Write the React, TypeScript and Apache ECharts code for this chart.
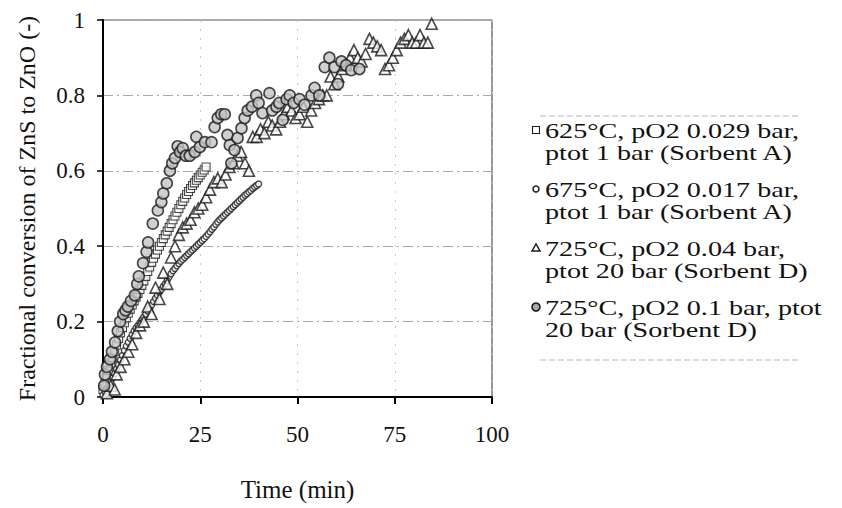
import React, { useEffect, useRef } from "react";
import * as echarts from "echarts";

const FONT = "Liberation Serif";

// axis ranges / ticks
const xMin = 0;
const xMax = 100;
const xStep = 25;
const yMin = 0;
const yMax = 1;
const yStep = 0.2;

const xTitle = "Time (min)";
const yTitle = "Fractional conversion of ZnS to ZnO (-)";

// legend texts (two lines each, as in the reference)
const legendLines: string[][] = [
  ["625°C, pO2 0.029 bar,", "ptot 1 bar (Sorbent A)"],
  ["675°C, pO2 0.017 bar,", "ptot 1 bar (Sorbent A)"],
  ["725°C, pO2 0.04 bar,", "ptot 20 bar (Sorbent D)"],
  ["725°C, pO2 0.1 bar, ptot", "20 bar (Sorbent D)"],
];
const seriesNames = legendLines.map((l) => l.join(" "));

// 625°C, pO2 0.029 bar, ptot 1 bar (Sorbent A) — squares [time, conversion]
const s625: number[][] = [
  [0, 0.02], [0.5, 0.035], [1, 0.05], [1.5, 0.07], [2, 0.09], [2.5, 0.105], [3, 0.12], [3.5, 0.138],
  [4, 0.155], [4.5, 0.17], [5, 0.184], [5.5, 0.197], [6, 0.21], [6.5, 0.222], [7, 0.233], [7.5, 0.244],
  [8, 0.255], [8.5, 0.265], [9, 0.275], [9.5, 0.285], [10, 0.296], [10.5, 0.308], [11, 0.32], [11.5, 0.333],
  [12, 0.345], [12.5, 0.357], [13, 0.368], [13.5, 0.379], [14, 0.39], [14.5, 0.4], [15, 0.41], [15.5, 0.42],
  [16, 0.43], [16.5, 0.44], [17, 0.45], [17.5, 0.46], [18, 0.47], [18.5, 0.48], [19, 0.49], [19.5, 0.5],
  [20, 0.51], [20.5, 0.519], [21, 0.528], [21.5, 0.537], [22, 0.545], [22.5, 0.553], [23, 0.561], [23.5, 0.568],
  [24, 0.575], [24.5, 0.582], [25, 0.589], [25.5, 0.596], [26, 0.602], [26.5, 0.61],
];

// 675°C, pO2 0.017 bar, ptot 1 bar (Sorbent A) — small open circles
const s675: number[][] = [
  [0, 0.005], [0.5, 0.015], [1, 0.022], [1.5, 0.031], [2, 0.04], [2.5, 0.051], [3, 0.062], [3.5, 0.074],
  [4, 0.085], [4.5, 0.098], [5, 0.11], [5.5, 0.123], [6, 0.135], [6.5, 0.145], [7, 0.155], [7.5, 0.165],
  [8, 0.175], [8.5, 0.183], [9, 0.19], [9.5, 0.197], [10, 0.205], [10.5, 0.212], [11, 0.22], [11.5, 0.228],
  [12, 0.235], [12.5, 0.244], [13, 0.253], [13.5, 0.262], [14, 0.27], [14.5, 0.278], [15, 0.285], [15.5, 0.293],
  [16, 0.3], [16.5, 0.309], [17, 0.318], [17.5, 0.327], [18, 0.335], [18.5, 0.341], [19, 0.348], [19.5, 0.354],
  [20, 0.36], [20.5, 0.365], [21, 0.37], [21.5, 0.375], [22, 0.38], [22.5, 0.385], [23, 0.39], [23.5, 0.395],
  [24, 0.4], [24.5, 0.405], [25, 0.41], [25.5, 0.415], [26, 0.42], [26.5, 0.426], [27, 0.432], [27.5, 0.438],
  [28, 0.445], [28.5, 0.451], [29, 0.458], [29.5, 0.464], [30, 0.47], [30.5, 0.475], [31, 0.48], [31.5, 0.485],
  [32, 0.49], [32.5, 0.495], [33, 0.5], [33.5, 0.505], [34, 0.51], [34.5, 0.515], [35, 0.52], [35.5, 0.525],
  [36, 0.53], [36.5, 0.535], [37, 0.539], [37.5, 0.544], [38, 0.548], [38.5, 0.553], [39, 0.557], [39.5, 0.561],
  [40, 0.565],
];

// 725°C, pO2 0.04 bar, ptot 20 bar (Sorbent D) — open triangles
const s725a: number[][] = [
  [1, 0.01], [2, 0.03], [3, 0.02], [3.5, 0.06], [4.5, 0.08], [5.5, 0.1], [6.5, 0.12], [7.5, 0.14],
  [8.5, 0.17], [9.5, 0.19], [10.5, 0.2], [11.5, 0.24], [12.5, 0.22], [13.5, 0.29], [14.5, 0.26], [15.5, 0.33],
  [16.5, 0.3], [17.5, 0.37], [18.5, 0.4], [19.5, 0.43], [20.5, 0.45], [21.5, 0.46], [22.5, 0.47], [23.5, 0.49],
  [24.5, 0.5], [25.5, 0.51], [26.5, 0.53], [27.5, 0.55], [28.5, 0.57], [29.5, 0.58], [30.5, 0.57], [31.5, 0.59],
  [32.5, 0.61], [33.5, 0.62], [34.5, 0.64], [35.5, 0.65], [36.5, 0.62], [37.5, 0.6], [38.5, 0.69], [39.5, 0.69],
  [40.5, 0.71], [41.5, 0.7], [42.5, 0.73], [43.5, 0.72], [44.5, 0.71], [45.5, 0.73], [46.5, 0.75], [47.5, 0.77],
  [48.5, 0.76], [49.5, 0.74], [50.5, 0.75], [51.5, 0.77], [52.5, 0.73], [53.5, 0.76], [54.5, 0.78], [55.5, 0.79],
  [56.5, 0.8], [57.5, 0.8], [58.5, 0.85], [59.5, 0.83], [60.5, 0.85], [61.5, 0.87], [62.5, 0.88], [63.5, 0.9],
  [64.5, 0.92], [65.5, 0.9], [66.5, 0.89], [67.5, 0.91], [68.5, 0.95], [69.5, 0.94], [70.5, 0.93], [71.5, 0.92],
  [72.5, 0.87], [73.5, 0.88], [74.5, 0.9], [75.5, 0.92], [76.5, 0.94], [77.5, 0.95], [78.5, 0.96], [79.5, 0.94],
  [80.5, 0.94], [81.5, 0.96], [82.5, 0.94], [83.5, 0.94], [84.5, 0.99],
];

// 725°C, pO2 0.1 bar, ptot 20 bar (Sorbent D) — grey-centred circles
const s725b: number[][] = [
  [0.3, 0.03], [0.5, 0.06], [1, 0.08], [1.8, 0.1], [2.3, 0.12], [3.1, 0.145], [3.8, 0.175], [4.4, 0.2],
  [5.2, 0.22], [5.8, 0.23], [6.4, 0.24], [7.2, 0.255], [8.2, 0.27], [8.8, 0.3], [9.2, 0.32], [10.3, 0.355],
  [11.2, 0.385], [11.6, 0.41], [12.8, 0.46], [14.1, 0.495], [15, 0.517], [15.5, 0.54], [16.4, 0.567], [17.2, 0.6],
  [17.8, 0.62], [18.5, 0.634], [19.2, 0.665], [19.8, 0.65], [20.5, 0.66], [21.3, 0.64], [22.3, 0.64], [23.6, 0.65],
  [24, 0.69], [24.9, 0.663], [26.2, 0.676], [27.9, 0.676], [28.7, 0.716], [29.5, 0.74], [30.4, 0.75], [31.3, 0.75],
  [32, 0.695], [32.6, 0.668], [33, 0.62], [33.8, 0.655], [34.6, 0.687], [35.6, 0.713], [36.4, 0.74], [37.2, 0.76],
  [38.3, 0.77], [39.4, 0.8], [40, 0.78], [41, 0.753], [42.8, 0.806], [43.5, 0.76], [44.6, 0.77], [45.3, 0.78],
  [46.2, 0.735], [47.2, 0.79], [48, 0.8], [49, 0.78], [50.5, 0.79], [51.8, 0.775], [53.6, 0.8], [54.4, 0.82],
  [55.6, 0.8], [57, 0.875], [58.2, 0.9], [59.5, 0.875], [60.4, 0.83], [61.3, 0.89], [62.5, 0.88], [63.8, 0.867],
  [65.9, 0.87],
];

const INK = "#1a1a1a";

function legendGraphics() {
  const els: any[] = [];
  const symX = 536;
  const textX = 545;
  const top = 130;
  const step = 59;
  const lineGap = 22;
  els.push({
    type: "line",
    shape: { x1: 540, y1: 116, x2: 800, y2: 116 },
    style: { stroke: "#b5b5b5", lineWidth: 1, lineDash: [6, 3] },
  });
  els.push({
    type: "line",
    shape: { x1: 540, y1: 360, x2: 800, y2: 360 },
    style: { stroke: "#b5b5b5", lineWidth: 1, lineDash: [6, 3] },
  });
  legendLines.forEach((lines, i) => {
    const y = top + i * step;
    if (i === 0) {
      els.push({ type: "rect", shape: { x: symX - 3.5, y: y - 3.5, width: 7, height: 7 }, style: { fill: "#fff", stroke: INK, lineWidth: 1.1 } });
    } else if (i === 1) {
      els.push({ type: "circle", shape: { cx: symX, cy: y, r: 3 }, style: { fill: "#fff", stroke: INK, lineWidth: 1.5 } });
    } else if (i === 2) {
      els.push({ type: "polygon", shape: { points: [[symX, y - 4], [symX - 4, y + 3], [symX + 4, y + 3]] }, style: { fill: "#fff", stroke: INK, lineWidth: 1.5 } });
    } else {
      els.push({ type: "circle", shape: { cx: symX, cy: y, r: 4 }, style: { fill: "#aaa", stroke: INK, lineWidth: 1.6 } });
    }
    lines.forEach((t, k) => {
      els.push({
        type: "text",
        x: textX,
        y: y + k * lineGap,
        scaleX: 1.28,
        style: {
          text: t,
          font: `22px ${FONT}`,
          fill: "#111",
          textAlign: "left",
          textVerticalAlign: "middle",
          align: "left",
          verticalAlign: "middle",
        },
      });
    });
  });
  return els;
}

export default function App() {
  const ref = useRef<HTMLDivElement>(null);
  useEffect(() => {
    if (!ref.current) return;
    const chart = echarts.init(ref.current, null, { renderer: "svg" });
    const labelStyle = { fontFamily: FONT, fontSize: 23, color: "#111" };
    chart.setOption({
      animation: false,
      backgroundColor: "#fff",
      textStyle: { fontFamily: FONT },
      grid: {
        show: true,
        left: 103,
        right: 350,
        top: 20,
        bottom: 111,
        borderColor: "#555",
        borderWidth: 1.2,
        backgroundColor: "transparent",
        containLabel: false,
      },
      legend: { show: false, data: seriesNames },
      xAxis: {
        type: "value",
        min: xMin,
        max: xMax,
        interval: xStep,
        name: xTitle,
        nameLocation: "middle",
        nameGap: 80,
        nameTextStyle: { fontFamily: FONT, fontSize: 25, color: "#111" },
        axisLine: { show: true, onZero: false, lineStyle: { color: "#000", width: 2 } },
        axisTick: { show: true, length: 7, lineStyle: { color: "#000", width: 2 } },
        axisLabel: { ...labelStyle, margin: 26 },
        splitLine: { show: true, lineStyle: { color: "#c4c4c4", width: 1, type: [2, 7] } },
      },
      yAxis: {
        type: "value",
        min: yMin,
        max: yMax,
        interval: yStep,
        name: yTitle,
        nameLocation: "middle",
        nameRotate: 90,
        nameGap: 64,
        nameTextStyle: { fontFamily: FONT, fontSize: 24, color: "#111" },
        axisLine: { show: true, onZero: false, lineStyle: { color: "#000", width: 2 } },
        axisTick: { show: true, length: 6, lineStyle: { color: "#000", width: 1.5 } },
        axisLabel: { ...labelStyle, margin: 18 },
        splitLine: { show: true, lineStyle: { color: "#a8a8a8", width: 1, type: [10, 4, 2, 4] } },
      },
      series: [
        {
          name: seriesNames[0],
          type: "scatter",
          data: s625,
          symbol: "rect",
          symbolSize: 8,
          itemStyle: { color: "#fff", borderColor: INK, borderWidth: 1.1 },
        },
        {
          name: seriesNames[1],
          type: "scatter",
          data: s675,
          symbol: "circle",
          symbolSize: 6,
          itemStyle: { color: "#fff", borderColor: INK, borderWidth: 1.4 },
        },
        {
          name: seriesNames[2],
          type: "scatter",
          data: s725a,
          symbol: "triangle",
          symbolSize: 11,
          itemStyle: { color: "#fff", borderColor: INK, borderWidth: 1.6 },
        },
        {
          name: seriesNames[3],
          type: "scatter",
          data: s725b,
          symbol: "circle",
          symbolSize: 11,
          itemStyle: { color: "#c4c4c4", borderColor: INK, borderWidth: 1.6 },
        },
      ],
      graphic: legendGraphics(),
    });
    return () => chart.dispose();
  }, []);
  return (
    <div
      ref={ref}
      style={{ position: "fixed", left: 0, top: 0, width: 842, height: 508, background: "#fff" }}
    />
  );
}
